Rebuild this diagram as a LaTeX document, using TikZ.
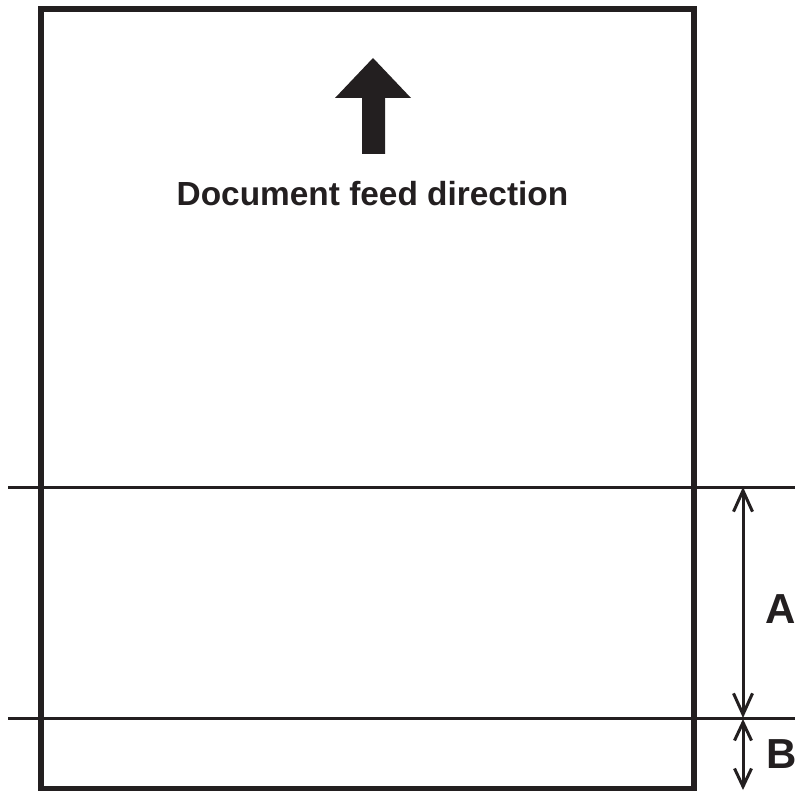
\documentclass[tikz,border=0pt]{standalone}
\usepackage{fontspec}
\setmainfont{Liberation Sans}
\usetikzlibrary{arrows.meta}
\definecolor{ink}{RGB}{35,31,32}
\begin{document}
\begin{tikzpicture}[x=1pt,y=-1pt,
  frame/.style={draw=ink,line width=5.5pt},
  cutline/.style={draw=ink,line width=3pt},
  dimline/.style={draw=ink,line width=3pt,{Straight Barb[length=21pt,width=19pt,line width=3pt]}-{Straight Barb[length=21pt,width=19pt,line width=3pt]}},
  dimlineB/.style={draw=ink,line width=3pt,{Straight Barb[length=18pt,width=17pt,line width=3pt]}-{Straight Barb[length=18pt,width=17pt,line width=3pt]}},
  lbl/.style={font=\bfseries\fontsize{42}{42}\selectfont,text=ink,inner sep=0pt,anchor=base west},
  caption/.style={font=\bfseries\fontsize{33.4}{33.4}\selectfont,text=ink,inner sep=0pt,anchor=base}
]
\useasboundingbox (0,0) rectangle (795,791);
% document frame
\draw[frame] (41,9) rectangle (694,788.5);
% cut lines
\coordinate (l1w) at (8,487);
\coordinate (l1e) at (795,487);
\coordinate (l2w) at (8,718);
\coordinate (l2e) at (795,718);
\draw[cutline] (l1w) -- (l1e);
\draw[cutline] (l2w) -- (l2e);
% feed arrow
\fill[ink] (373,58) -- (411,98) -- (385,98) -- (385,154) -- (362,154) -- (362,98) -- (335,98) -- cycle;
\node[caption] (cap) at (372.5,205.5) {Document feed direction};
% dimension A
\coordinate (aT) at (743,487);
\coordinate (aB) at (743,718);
\draw[dimline] (aT) -- (aB);
\node[lbl] (A) at (765,623) {A};
% dimension B
\coordinate (bT) at (743,719);
\coordinate (bB) at (743,790);
\draw[dimlineB] (bT) -- (bB);
\node[lbl] (B) at (766,768) {B};
\end{tikzpicture}
\end{document}
